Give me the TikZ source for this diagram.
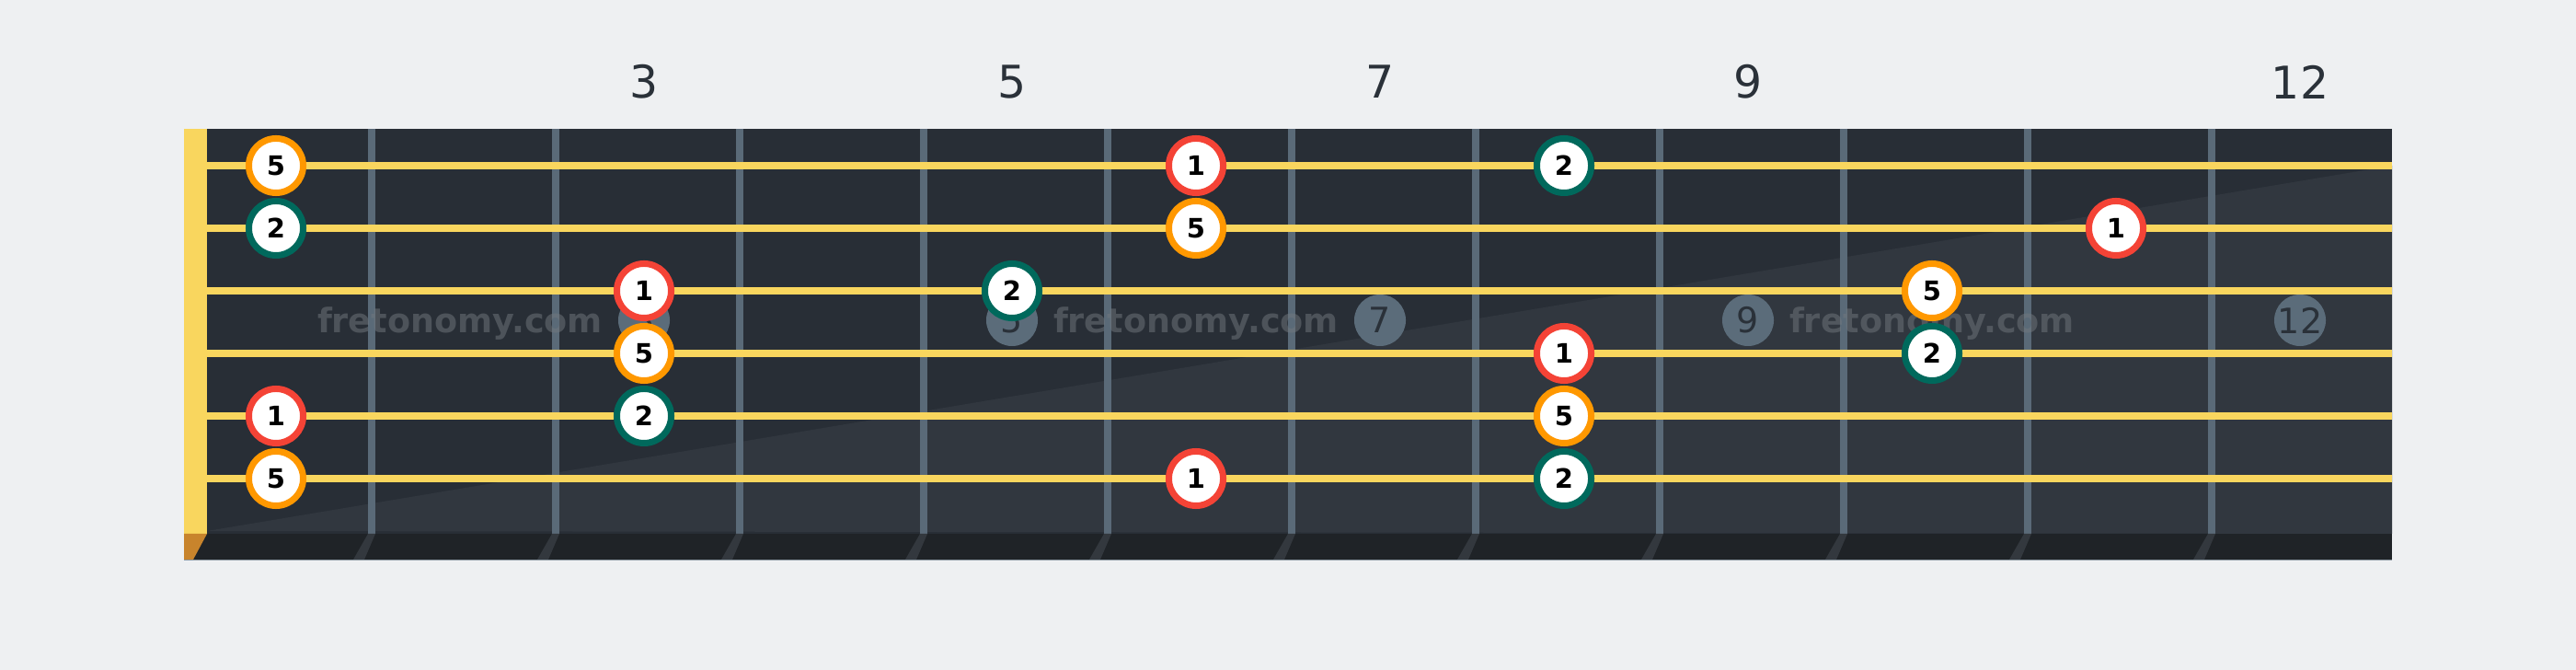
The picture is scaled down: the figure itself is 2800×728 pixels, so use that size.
\documentclass[tikz,border=0pt]{standalone}
\usepackage{fontspec}
\setmainfont{DejaVu Sans}

\definecolor{bgcol}{HTML}{EEF0F2}
\definecolor{boardtop}{HTML}{282E36}
\definecolor{boardlow}{HTML}{31373F}
\definecolor{stripcol}{HTML}{1F2327}
\definecolor{fretcol}{HTML}{5A6A78}
\definecolor{fretshade}{HTML}{33383E}
\definecolor{stringcol}{HTML}{F9D65E}
\definecolor{nutshade}{HTML}{C8842C}
\definecolor{inlaycol}{HTML}{5B6C7A}
\definecolor{numcol}{HTML}{2A3139}
\definecolor{markcol}{HTML}{72787E}
\definecolor{rootcol}{HTML}{F44336}
\definecolor{fifthcol}{HTML}{FF9800}
\definecolor{secondcol}{HTML}{00695C}

\begin{document}
\begin{tikzpicture}[x=0.01cm, y=-0.01cm,
    note/.style={circle, draw=#1, line width=1.99pt, fill=white, minimum size=0.59cm,
      inner sep=0pt, font=\fontsize{8.25}{9}\selectfont\bfseries, text=black},
    inlay/.style={circle, fill=inlaycol, minimum size=0.56cm, inner sep=0pt,
      font=\fontsize{10.8}{12}\selectfont, text=numcol},
    fretnum/.style={font=\fontsize{13.9}{15}\selectfont, text=numcol},
    watermark/.style={anchor=base, font=\fontsize{10.4}{12}\selectfont\bfseries,
      text=markcol, text opacity=0.5}]
    {\centering

    \useasboundingbox (0, 0) rectangle (2800, 728);
    \fill[bgcol] (0, 0) rectangle (2800, 728);

    % board and its lighter lower half
    \fill[boardtop] (225, 140) rectangle (2600, 580);
    \fill[boardlow] (225, 577) -- (2600, 180) -- (2600, 580) -- cycle;
    \fill[stripcol] (200, 580) rectangle (2600, 608);
    \draw[line width=0.4pt, color=fretcol!70] (200, 608.5) -- (2600, 608.5);

    % fret wires
    \foreach \n in {1,...,11} {
      \fill[fretcol] (200 * \n + 200, 140) rectangle (200 * \n + 208, 580);
      \fill[fretshade] (200 * \n + 200, 580) -- (200 * \n + 208, 580)
        -- (200 * \n + 196, 608) -- (200 * \n + 184, 608) -- cycle;
    }

    % nut
    \fill[stringcol] (200, 140) rectangle (225, 580);
    \fill[nutshade] (200, 580) -- (225, 580) -- (210, 608) -- (200, 608) -- cycle;

    % inlays
    \node[inlay] (in3) at (700, 348) {3};
    \node[inlay] (in5) at (1100, 348) {5};
    \node[inlay] (in7) at (1500, 348) {7};
    \node[inlay] (in9) at (1900, 348) {9};
    \node[inlay] (in12) at (2500, 348) {12};

    % strings
    \foreach \s in {1,...,6}
      \fill[stringcol] (225, 112 + 68 * \s - 4) rectangle (2600, 112 + 68 * \s + 4);

    % fret numbers
    \node[fretnum] (fn3) at (700, 89) {3};
    \node[fretnum] (fn5) at (1100, 89) {5};
    \node[fretnum] (fn7) at (1500, 89) {7};
    \node[fretnum] (fn9) at (1900, 89) {9};
    \node[fretnum] (fn12) at (2500, 89) {12};

    \node[watermark] (wm1) at (500, 362) {fretonomy.com};
    \node[watermark] (wm2) at (1300, 362) {fretonomy.com};
    \node[watermark] (wm3) at (2100, 362) {fretonomy.com};

    % notes, string by string
    \node[note=fifthcol] (s1f1) at (300, 180) {5};
    \node[note=rootcol] (s1f6) at (1300, 180) {1};
    \node[note=secondcol] (s1f8) at (1700, 180) {2};

    \node[note=secondcol] (s2f1) at (300, 248) {2};
    \node[note=fifthcol] (s2f6) at (1300, 248) {5};
    \node[note=rootcol] (s2f11) at (2300, 248) {1};

    \node[note=rootcol] (s3f3) at (700, 316) {1};
    \node[note=secondcol] (s3f5) at (1100, 316) {2};
    \node[note=fifthcol] (s3f10) at (2100, 316) {5};

    \node[note=fifthcol] (s4f3) at (700, 384) {5};
    \node[note=rootcol] (s4f8) at (1700, 384) {1};
    \node[note=secondcol] (s4f10) at (2100, 384) {2};

    \node[note=rootcol] (s5f1) at (300, 452) {1};
    \node[note=secondcol] (s5f3) at (700, 452) {2};
    \node[note=fifthcol] (s5f8) at (1700, 452) {5};

    \node[note=fifthcol] (s6f1) at (300, 520) {5};
    \node[note=rootcol] (s6f6) at (1300, 520) {1};
    \node[note=secondcol] (s6f8) at (1700, 520) {2};

    }
\end{tikzpicture}
\end{document}
